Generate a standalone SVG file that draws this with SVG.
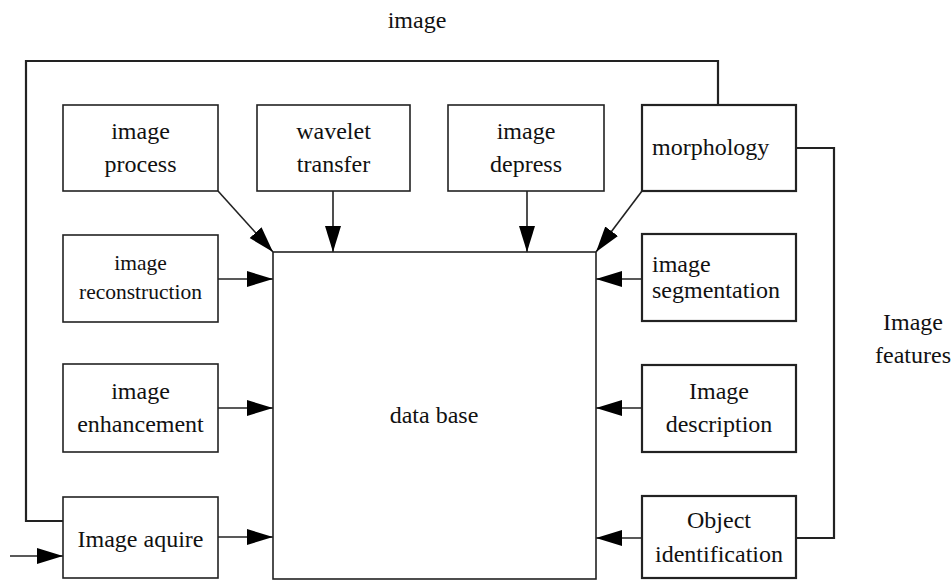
<svg xmlns="http://www.w3.org/2000/svg" width="952" height="581" viewBox="0 0 952 581">
<style>
.box{fill:#fff;stroke:#222;stroke-width:1.6}
.boxr{fill:#fff;stroke:#222;stroke-width:2.2}
.t{font-family:"Liberation Serif","Times New Roman",serif;font-size:24px;fill:#111}
.s{font-size:21.5px}
.c{text-anchor:middle}
.ln{fill:none;stroke:#222;stroke-width:1.6}
.lp{fill:none;stroke:#222;stroke-width:2.2}
</style>
<defs>
<marker id="ah" markerUnits="userSpaceOnUse" markerWidth="28" markerHeight="18" refX="26" refY="8" orient="auto">
<path d="M0,0 L26,8 L0,16 Z" fill="#000"/>
</marker>
</defs>
<rect width="952" height="581" fill="#fff"/>
<g id="connectors">
<polyline class="lp" points="63,521 26,521 26,61 718,61 718,105"/>
<polyline class="lp" points="796,148 834,148 834,538 796,538"/>
<line class="ln" x1="10" y1="556" x2="63" y2="556" marker-end="url(#ah)"/>
<line class="ln" x1="218" y1="191" x2="273" y2="252" marker-end="url(#ah)"/>
<line class="ln" x1="333" y1="191" x2="333" y2="252" marker-end="url(#ah)"/>
<line class="ln" x1="527" y1="191" x2="527" y2="252" marker-end="url(#ah)"/>
<line class="ln" x1="642" y1="191" x2="596" y2="252" marker-end="url(#ah)"/>
<line class="ln" x1="218" y1="279" x2="273" y2="279" marker-end="url(#ah)"/>
<line class="ln" x1="218" y1="408" x2="273" y2="408" marker-end="url(#ah)"/>
<line class="ln" x1="218" y1="537" x2="273" y2="537" marker-end="url(#ah)"/>
<line class="ln" x1="642" y1="279" x2="596" y2="279" marker-end="url(#ah)"/>
<line class="ln" x1="642" y1="408" x2="596" y2="408" marker-end="url(#ah)"/>
<line class="ln" x1="642" y1="538" x2="596" y2="538" marker-end="url(#ah)"/>
</g>
<g id="label-image"><text class="t c" x="417" y="28">image</text></g>
<g id="label-features"><text class="t c" x="913" y="330">Image</text><text class="t c" x="913" y="363">features</text></g>
<g id="database"><rect class="box" x="273" y="252" width="323" height="327"/><text class="t c" x="434" y="423">data base</text></g>
<g id="image-process"><rect class="box" x="63" y="105" width="155" height="86"/><text class="t c" x="140.5" y="139">image</text><text class="t c" x="140.5" y="172">process</text></g>
<g id="wavelet-transfer"><rect class="box" x="257" y="105" width="153" height="86"/><text class="t c" x="333.5" y="139">wavelet</text><text class="t c" x="333.5" y="172">transfer</text></g>
<g id="image-depress"><rect class="box" x="448" y="105" width="156" height="86"/><text class="t c" x="526" y="139">image</text><text class="t c" x="526" y="172">depress</text></g>
<g id="morphology"><rect class="boxr" x="642" y="105" width="154" height="86"/><text class="t" x="652" y="155">morphology</text></g>
<g id="image-reconstruction"><rect class="box" x="63" y="235" width="155" height="87"/><text class="t s c" x="140.5" y="270">image</text><text class="t s c" x="140.5" y="299">reconstruction</text></g>
<g id="image-enhancement"><rect class="box" x="63" y="364" width="155" height="88"/><text class="t c" x="140.5" y="399">image</text><text class="t c" x="140.5" y="432">enhancement</text></g>
<g id="image-aquire"><rect class="box" x="63" y="497" width="155" height="81"/><text class="t c" x="140.5" y="547">Image aquire</text></g>
<g id="image-segmentation"><rect class="boxr" x="642" y="234" width="154" height="87"/><text class="t" x="652" y="272">image</text><text class="t" x="652" y="298">segmentation</text></g>
<g id="image-description"><rect class="boxr" x="642" y="365" width="154" height="87"/><text class="t c" x="719" y="399">Image</text><text class="t c" x="719" y="432">description</text></g>
<g id="object-identification"><rect class="boxr" x="642" y="496" width="154" height="82"/><text class="t c" x="719" y="528">Object</text><text class="t c" x="719" y="562">identification</text></g>
</svg>
